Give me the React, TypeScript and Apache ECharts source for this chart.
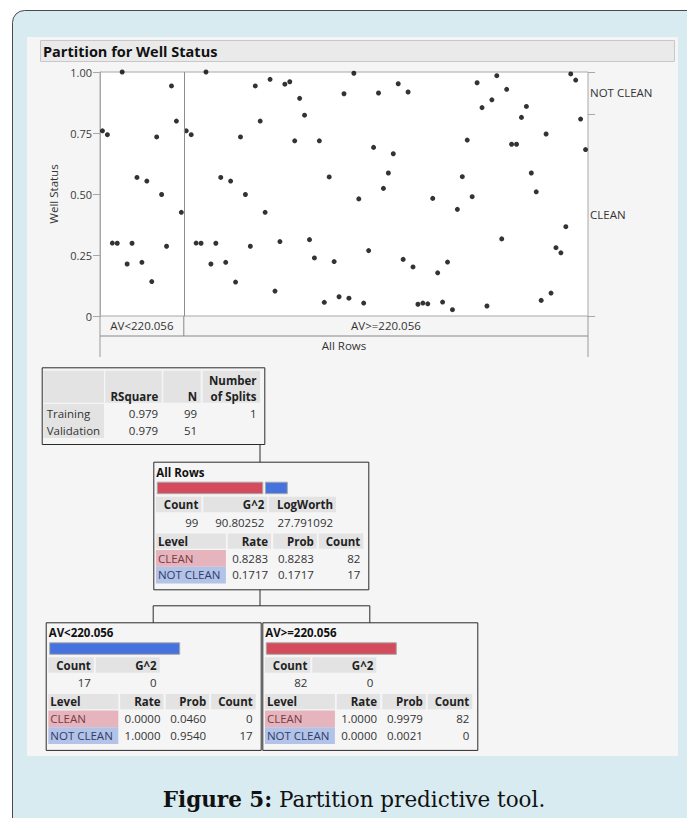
import { useEffect, useRef } from 'react';
import * as echarts from 'echarts';

// ---- Data ----
// Well Status (jittered) of each row, in row order, in the two partitions
const leftRowValues = [0.759, 0.743, 0.299, 0.298, 1.0, 0.213, 0.298, 0.568, 0.22, 0.553, 0.141, 0.734, 0.498, 0.286, 0.943, 0.799, 0.425];
const rightRowValues = [
  0.759, 0.743, 0.299, 0.298, 1.0, 0.213, 0.298, 0.568, 0.22, 0.553, 0.139, 0.734, 0.498, 0.286, 0.943, 0.799, 0.425,
  0.97, 0.102, 0.305, 0.95, 0.96, 0.718, 0.892, 0.823, 0.313, 0.238, 0.718, 0.056, 0.57, 0.223, 0.079, 0.911, 0.073,
  0.995, 0.48, 0.053, 0.268, 0.691, 0.914, 0.523, 0.586, 0.665, 0.952, 0.232, 0.918, 0.201, 0.048, 0.053, 0.05, 0.482,
  0.177, 0.057, 0.221, 0.026, 0.437, 0.571, 0.721, 0.489, 0.956, 0.854, 0.041, 0.886, 0.985, 0.316, 0.929, 0.704,
  0.704, 0.814, 0.859, 0.586, 0.509, 0.064, 0.746, 0.094, 0.28, 0.259, 0.366, 0.992, 0.967, 0.807, 0.682,
];
const yTickLabels = ['0', '0.25', '0.50', '0.75', '1.00'];
const levelNames = ['CLEAN', 'NOT CLEAN'];
const splitLabels = ['AV<220.056', 'AV>=220.056'];
const rootLabel = 'All Rows';

const fitHeaders = ['RSquare', 'N', 'Number\nof Splits'];
const fitRowNames = ['Training', 'Validation'];
const fitRSquare = ['0.979', '0.979'];
const fitN = ['99', '51'];
const fitSplits = ['1', ''];

const rootCounts = [82, 17];
const rootStats = [['Count', '99'], ['G^2', '90.80252'], ['LogWorth', '27.791092']];
const rootLevels = [['0.8283', '0.8283', '82'], ['0.1717', '0.1717', '17']];

const leftCounts = [0, 17];
const leftStats = [['Count', '17'], ['G^2', '0']];
const leftLevels = [['0.0000', '0.0460', '0'], ['1.0000', '0.9540', '17']];

const rightCounts = [82, 0];
const rightStats = [['Count', '82'], ['G^2', '0']];
const rightLevels = [['1.0000', '0.9979', '82'], ['0.0000', '0.0021', '0']];

const levelHeaders = ['Level', 'Rate', 'Prob', 'Count'];

// ---- Styles ----
const FONT = '"Open Sans", "Noto Sans", sans-serif';
const SERIF = '"DejaVu Serif", "Liberation Serif", serif';
const BAR_COLORS = ['#d34b5c', '#4572dc'];
const CELL_COLORS = ['#e5b4bc', '#b3c2e7'];
const CELL_TEXT = ['#7a3a46', '#2e3d6c'];
const HDR = '#e3e3e3';
const BOX = '#2b2b2b';
const TXT = '#333333';
const G = { left: 100, top: 72, width: 488, height: 244 };

function buildOption() {
  const LEFT_N = leftRowValues.length;
  const TOTAL = LEFT_N + rightRowValues.length;
  const leftData = leftRowValues.map((v, i) => [i + 0.5, v]);
  const rightData = rightRowValues.map((v, i) => [LEFT_N + i + 0.5, v]);
  const cleanRate = parseFloat(rootLevels[0][0]);

  const els: any[] = [];
  const rect = (x: number, y: number, w: number, h: number, fill: string, stroke?: string, z = 2, r = 0) =>
    els.push({ type: 'rect', z, silent: true, shape: { x, y, width: w, height: h, r }, style: { fill, stroke: stroke || null, lineWidth: stroke ? 1 : 0 } });
  const line = (x1: number, y1: number, x2: number, y2: number, stroke: string, z = 3) =>
    els.push({ type: 'line', z, silent: true, shape: { x1, y1, x2, y2 }, style: { stroke, lineWidth: 1 } });
  const text = (x: number, y: number, t: string, o: any = {}) =>
    els.push({
      type: 'text', z: 5, silent: true, x, y,
      style: {
        text: t, fill: o.color || TXT, fontSize: o.size || 11.5, fontFamily: o.family || FONT,
        fontWeight: o.bold ? 'bold' : 'normal', align: o.align || 'left', verticalAlign: 'middle',
        lineHeight: o.lineHeight,
      },
    });

  // Frame and panel
  rect(12.5, 10.5, 720, 860, '#d8ebf1', '#4a4a4a', -20, 12);
  rect(27, 37, 651, 719, '#f5f5f5', undefined, -19);
  rect(40.5, 40.5, 634, 21, '#eaeaea', '#c8c8c8', -18);
  text(43, 51.5, 'Partition for Well Status', { bold: true, size: 14.5, color: '#111' });

  // Partition bands under the plot
  const by = G.top + G.height;
  const splitX = G.left + (G.width * LEFT_N) / TOTAL;
  line(G.left, by, G.left, by + 41, '#9a9a9a');
  line(G.left + G.width, by, G.left + G.width, by + 41, '#9a9a9a');
  line(splitX, by, splitX, by + 20, '#888');
  line(G.left, by + 20, G.left + G.width, by + 20, '#888');
  text((G.left + splitX) / 2, by + 9.5, splitLabels[0], { align: 'center' });
  text((splitX + G.left + G.width) / 2, by + 9.5, splitLabels[1], { align: 'center' });
  text(G.left + G.width / 2, by + 29.5, rootLabel, { align: 'center' });

  // Fit summary table
  const tx = 41.7, ty = 367.3;
  rect(tx + 0.5, ty + 0.5, 222.6, 76.7, 'none', BOX, 2);
  const fitCols = [[1.6, 60.7], [63.6, 56.4], [121.6, 37.4], [161, 57.3]];
  fitCols.forEach(([cx, cw]) => rect(tx + cx, ty + 3.4, cw, 32, HDR, undefined, 1));
  rect(tx + fitCols[0][0], ty + 36.7, fitCols[0][1], 34, HDR, undefined, 1);
  fitHeaders.forEach((h, i) => {
    const [cx, cw] = fitCols[i + 1];
    const parts = h.split('\n');
    parts.forEach((p, k) => {
      const yy = ty + 28.7 - (parts.length - 1 - k) * 16;
      text(tx + cx + cw - 3.5, yy, p, { bold: true, align: 'right', color: '#222' });
    });
  });
  fitRowNames.forEach((name, r) => {
    const yy = ty + 45.7 + r * 17.7;
    text(tx + 5, yy, name);
    const vals = [fitRSquare[r], fitN[r], fitSplits[r]];
    vals.forEach((v, i) => {
      const [cx, cw] = fitCols[i + 1];
      if (v) text(tx + cx + cw - 3.5, yy, v, { align: 'right' });
    });
  });

  // Tree nodes
  const NODE_W = 215, NODE_H = 127.6;
  const statCols = [[2.6, 45.5], [50, 64], [115.5, 67.3]];
  const levelCols = [[2.6, 70], [74.5, 43.3], [120, 43.5], [165.5, 44.5]];
  const node = (x0: number, y0: number, title: string, counts: number[], stats: string[][], levels: string[][]) => {
    rect(x0 + 0.5, y0 + 0.5, NODE_W, NODE_H, 'none', BOX, 2);
    text(x0 + 3, y0 + 10.5, title, { bold: true, color: '#111' });
    const total = counts.reduce((a, b) => a + b, 0);
    const nz = counts.filter((c) => c > 0).length;
    const gap = 2.7;
    const avail = 130 - gap * (nz - 1);
    let bx = x0 + 4;
    counts.forEach((c, i) => {
      if (!c) return;
      const w = (avail * c) / total;
      rect(bx, y0 + 20.5, w, 11.5, BAR_COLORS[i], '#a8a8a8', 2);
      bx += w + gap;
    });
    stats.forEach(([h, v], i) => {
      const [cx, cw] = statCols[i];
      rect(x0 + cx, y0 + 35, cw, 15.5, HDR, undefined, 1);
      text(x0 + cx + cw - 3, y0 + 43, h, { bold: true, align: 'right', color: '#222' });
      text(x0 + cx + cw - 3, y0 + 60.3, v, { align: 'right' });
    });
    levelHeaders.forEach((h, i) => {
      const [cx, cw] = levelCols[i];
      rect(x0 + cx, y0 + 71.7, cw, 15.3, HDR, undefined, 1);
      if (i === 0) text(x0 + cx + 2, y0 + 79.4, h, { bold: true, color: '#222' });
      else text(x0 + cx + cw - 3, y0 + 79.4, h, { bold: true, align: 'right', color: '#222' });
    });
    levels.forEach((vals, r) => {
      const ry = y0 + 88.3 + r * 16.7;
      const [lx, lw] = levelCols[0];
      rect(x0 + lx, ry, lw, 16.7, CELL_COLORS[r], undefined, 1);
      text(x0 + lx + 2, ry + 8.2, levelNames[r], { color: CELL_TEXT[r] });
      vals.forEach((v, i) => {
        const [cx, cw] = levelCols[i + 1];
        text(x0 + cx + cw - 3, ry + 8.2, v, { align: 'right' });
      });
    });
  };
  const root = { x: 153.3, y: 461.7 };
  const lnode = { x: 45.7, y: 622.3 };
  const rnode = { x: 262.3, y: 622.3 };
  node(root.x, root.y, rootLabel, rootCounts, rootStats, rootLevels);
  node(lnode.x, lnode.y, splitLabels[0], leftCounts, leftStats, leftLevels);
  node(rnode.x, rnode.y, splitLabels[1], rightCounts, rightStats, rightLevels);

  // Connectors
  const cx = tx + 218.3;
  line(cx, ty + 77.2, cx, root.y + 0.5, BOX);
  const midY = root.y + NODE_H + 16.5;
  const lcx = lnode.x + NODE_W / 2, rcx = rnode.x + NODE_W / 2;
  line(cx, root.y + NODE_H + 0.5, cx, midY, BOX);
  line(lcx, midY, rcx, midY, BOX);
  line(lcx, midY, lcx, lnode.y + 0.5, BOX);
  line(rcx, midY, rcx, rnode.y + 0.5, BOX);

  // Caption
  els.push({
    type: 'text', z: 5, silent: true, x: 354, y: 799,
    style: {
      text: '{b|Figure 5:} Partition predictive tool.',
      fill: '#111', fontSize: 21.5, fontFamily: SERIF, align: 'center', verticalAlign: 'middle',
      rich: { b: { fontWeight: 'bold', fontSize: 21.5, fontFamily: SERIF, fill: '#111' } },
    },
  });

  const dot = { color: '#000' };
  return {
    animation: false,
    grid: { ...G, show: true, backgroundColor: '#ffffff', borderColor: '#a8a8a8', borderWidth: 1, containLabel: false },
    xAxis: { type: 'value', min: 0, max: TOTAL, show: false },
    yAxis: [
      {
        type: 'value', min: 0, max: 1, interval: 0.25, position: 'left',
        name: 'Well Status', nameLocation: 'middle', nameGap: 38,
        nameTextStyle: { fontSize: 11.5, color: TXT, fontFamily: FONT },
        axisLine: { show: true, lineStyle: { color: '#a8a8a8' } },
        axisTick: { show: true, length: 7, lineStyle: { color: '#a8a8a8' } },
        axisLabel: {
          margin: 8, fontSize: 11, color: '#3a3a3a', fontFamily: FONT,
          formatter: (v: number) => yTickLabels[Math.round(v * 4)],
        },
        splitLine: { show: false },
      },
      {
        type: 'value', min: 0, max: 1, position: 'right',
        axisLine: { show: false },
        axisTick: { show: true, length: 7, customValues: [0, cleanRate, 1], lineStyle: { color: '#a8a8a8' } },
        axisLabel: {
          customValues: [cleanRate / 2, (1 + cleanRate) / 2], margin: 2, fontSize: 11.5, color: TXT, fontFamily: FONT,
          formatter: (v: number) => (v > cleanRate ? levelNames[1] : levelNames[0]),
        },
        splitLine: { show: false },
      },
    ],
    graphic: { elements: els },
    series: [
      {
        type: 'scatter', data: leftData, symbolSize: 5, itemStyle: dot, clip: true, z: 3,
        markLine: {
          silent: true, symbol: ['none', 'none'], label: { show: false },
          lineStyle: { color: '#8c8c8c', width: 1, type: 'solid' },
          data: [{ xAxis: LEFT_N }],
        },
      },
      { type: 'scatter', data: rightData, symbolSize: 5, itemStyle: dot, clip: true, z: 3 },
    ],
  };
}

export default function App() {
  const ref = useRef<HTMLDivElement>(null);
  useEffect(() => {
    const chart = echarts.init(ref.current!, null, { renderer: 'svg' });
    chart.setOption(buildOption() as any);
    return () => chart.dispose();
  }, []);
  return <div ref={ref} style={{ position: 'absolute', left: 0, top: 0, width: 687, height: 818 }} />;
}
